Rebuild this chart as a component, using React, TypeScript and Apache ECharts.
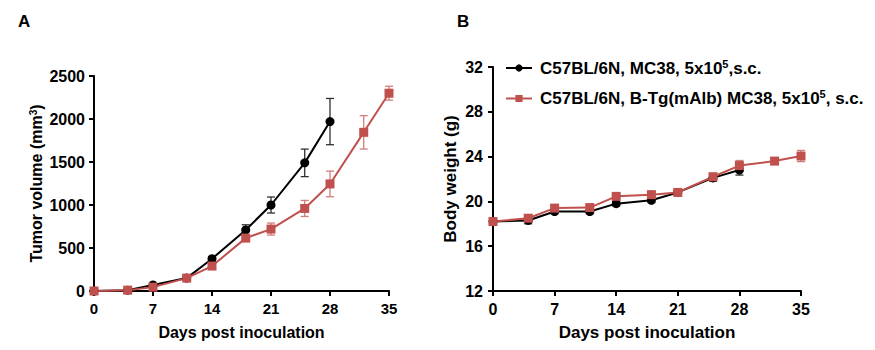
import React, { useEffect, useRef } from 'react';
import * as echarts from 'echarts';

const FONT = "'Liberation Sans', Arial, Helvetica, sans-serif";
const RED = '#C0504D';
const RED_ERR = '#CF7E7B';
const BLACK = '#000000';
const BLACK_ERR = '#303030';

const SERIES_NAMES = ['C57BL/6N, MC38, 5x10^5,s.c.', 'C57BL/6N, B-Tg(mAlb) MC38, 5x10^5, s.c.'];

// Panel A – tumor volume (mm3)
const tumorDaysBlack = [0, 4, 7, 11, 14, 18, 21, 25, 28];
const tumorBlack = [0, 10, 70, 150, 375, 710, 1000, 1490, 1970];
const tumorBlackErr = [0, 5, 10, 15, 25, 60, 93, 160, 269];
const tumorDaysRed = [0, 4, 7, 11, 14, 18, 21, 25, 28, 32, 35];
const tumorRed = [0, 10, 45, 150, 290, 615, 720, 960, 1245, 1845, 2300];
const tumorRedErr = [0, 5, 10, 15, 20, 30, 70, 93, 149, 194, 81];

// Panel B – body weight (g)
const bwDaysBlack = [0, 4, 7, 11, 14, 18, 21, 25, 28];
const bwBlack = [18.2, 18.3, 19.1, 19.1, 19.8, 20.1, 20.8, 22.1, 22.8];
const bwBlackErr = [0.2, 0.3, 0.2, 0.2, 0.2, 0.2, 0.2, 0.3, 0.45];
const bwDaysRed = [0, 4, 7, 11, 14, 18, 21, 25, 28, 32, 35];
const bwRed = [18.2, 18.5, 19.4, 19.45, 20.45, 20.6, 20.8, 22.2, 23.2, 23.6, 24.05];
const bwRedErr = [0.2, 0.2, 0.2, 0.2, 0.2, 0.3, 0.2, 0.3, 0.45, 0.3, 0.5];

function errSeries(days: number[], vals: number[], errs: number[], color: string, idx: number, cap: number) {
  return {
    type: 'custom',
    xAxisIndex: idx,
    yAxisIndex: idx,
    silent: true,
    z: 2,
    data: days.map((d, i) => [d, vals[i] - errs[i], vals[i] + errs[i]]),
    encode: { x: 0, y: [1, 2] },
    renderItem: (_params: any, api: any) => {
      const lo = api.coord([api.value(0), api.value(1)]);
      const hi = api.coord([api.value(0), api.value(2)]);
      const style = { stroke: color, lineWidth: 1.3, fill: 'none' };
      return {
        type: 'group',
        children: [
          { type: 'line', shape: { x1: hi[0], y1: hi[1], x2: lo[0], y2: lo[1] }, style },
          { type: 'line', shape: { x1: hi[0] - cap, y1: hi[1], x2: hi[0] + cap, y2: hi[1] }, style },
          { type: 'line', shape: { x1: lo[0] - cap, y1: lo[1], x2: lo[0] + cap, y2: lo[1] }, style },
        ],
      };
    },
  };
}

function lineSeries(name: string, days: number[], vals: number[], color: string, symbol: string, size: number, idx: number) {
  return {
    name,
    type: 'line',
    xAxisIndex: idx,
    yAxisIndex: idx,
    data: days.map((d, i) => [d, vals[i]]),
    symbol,
    symbolSize: size,
    showAllSymbol: true,
    z: 3,
    lineStyle: { color, width: 2 },
    itemStyle: { color, opacity: 1 },
    emphasis: { disabled: true },
  };
}

const plain = (v: number) => String(v);

function xAxis(idx: number, tickSize: number, nameSize: number) {
  return {
    type: 'value',
    gridIndex: idx,
    min: 0,
    max: 35,
    interval: 7,
    name: 'Days post inoculation',
    nameLocation: 'middle',
    nameGap: 33,
    nameTextStyle: { fontFamily: FONT, fontWeight: 'bold', fontSize: nameSize, color: '#000' },
    axisLine: { show: true, onZero: false, lineStyle: { color: '#000', width: 2 } },
    axisTick: { show: true, length: 5, lineStyle: { color: '#000', width: 2 } },
    axisLabel: { margin: 10, formatter: plain, fontFamily: FONT, fontWeight: 'bold', fontSize: tickSize, color: '#000' },
    splitLine: { show: false },
  };
}

export default function App() {
  const ref = useRef<HTMLDivElement>(null);
  useEffect(() => {
    if (!ref.current) return;
    const chart = echarts.init(ref.current, undefined, { renderer: 'svg' });
    const option: any = {
      animation: false,
      backgroundColor: '#fff',
      textStyle: { fontFamily: FONT },
      graphic: [
        { type: 'text', left: 18, top: 13, style: { text: 'A', font: `bold 17px ${FONT}`, fill: '#000' } },
        { type: 'text', left: 457, top: 13, style: { text: 'B', font: `bold 17px ${FONT}`, fill: '#000' } },
      ],
      grid: [
        { left: 94, top: 76, width: 295, height: 215, outerBoundsMode: 'none' },
        { left: 493, top: 67, width: 308, height: 224, outerBoundsMode: 'none' },
      ],
      legend: {
        data: SERIES_NAMES,
        orient: 'vertical',
        left: 505,
        top: 58,
        padding: 0,
        itemWidth: 26,
        itemHeight: 9,
        itemGap: 12,
        selectedMode: false,
        formatter: (n: string) => {
          const [a, b] = n.split('^5');
          return `{t|${a}}{s|5}{t|${b}}`;
        },
        textStyle: {
          padding: [0, 0, 0, 3],
          rich: {
            t: { fontFamily: FONT, fontWeight: 'bold', fontSize: 17, color: '#000', lineHeight: 20 },
            s: { fontFamily: FONT, fontWeight: 'bold', fontSize: 11, color: '#000', verticalAlign: 'top', lineHeight: 20, padding: [0, 0, 6, 0] },
          },
        },
      },
      xAxis: [xAxis(0, 15, 16), xAxis(1, 16, 17)],
      yAxis: [
        {
          type: 'value',
          gridIndex: 0,
          min: 0,
          max: 2500,
          interval: 500,
          name: '{t|Tumor volume (mm}{s|3}{t|)}',
          nameLocation: 'middle',
          nameGap: 50,
          nameTextStyle: {
            rich: {
              t: { fontFamily: FONT, fontWeight: 'bold', fontSize: 16, color: '#000' },
              s: { fontFamily: FONT, fontWeight: 'bold', fontSize: 10, color: '#000', verticalAlign: 'top', padding: [0, 0, 6, 0] },
            },
          },
          axisLine: { show: true, onZero: false, lineStyle: { color: '#000', width: 2 } },
          axisTick: { show: true, length: 5, lineStyle: { color: '#000', width: 2 } },
          axisLabel: { margin: 9, formatter: plain, fontFamily: FONT, fontWeight: 'bold', fontSize: 16, color: '#000' },
          splitLine: { show: false },
        },
        {
          type: 'value',
          gridIndex: 1,
          min: 12,
          max: 32,
          interval: 4,
          name: 'Body weight (g)',
          nameLocation: 'middle',
          nameGap: 34,
          nameTextStyle: { fontFamily: FONT, fontWeight: 'bold', fontSize: 17, color: '#000' },
          axisLine: { show: true, onZero: false, lineStyle: { color: '#000', width: 2 } },
          axisTick: { show: true, length: 5, lineStyle: { color: '#000', width: 2 } },
          axisLabel: { margin: 10, formatter: plain, fontFamily: FONT, fontWeight: 'bold', fontSize: 16, color: '#000' },
          splitLine: { show: false },
        },
      ],
      series: [
        errSeries(tumorDaysBlack, tumorBlack, tumorBlackErr, BLACK_ERR, 0, 4),
        errSeries(tumorDaysRed, tumorRed, tumorRedErr, RED_ERR, 0, 4),
        lineSeries(SERIES_NAMES[0], tumorDaysBlack, tumorBlack, BLACK, 'circle', 9, 0),
        lineSeries(SERIES_NAMES[1], tumorDaysRed, tumorRed, RED, 'rect', 9, 0),
        errSeries(bwDaysBlack, bwBlack, bwBlackErr, BLACK_ERR, 1, 4),
        errSeries(bwDaysRed, bwRed, bwRedErr, RED_ERR, 1, 4),
        lineSeries(SERIES_NAMES[0], bwDaysBlack, bwBlack, BLACK, 'circle', 9, 1),
        lineSeries(SERIES_NAMES[1], bwDaysRed, bwRed, RED, 'rect', 9, 1),
      ],
    };
    chart.setOption(option);
    return () => chart.dispose();
  }, []);
  return <div ref={ref} style={{ position: 'fixed', left: 0, top: 0, width: 875, height: 350 }} />;
}
